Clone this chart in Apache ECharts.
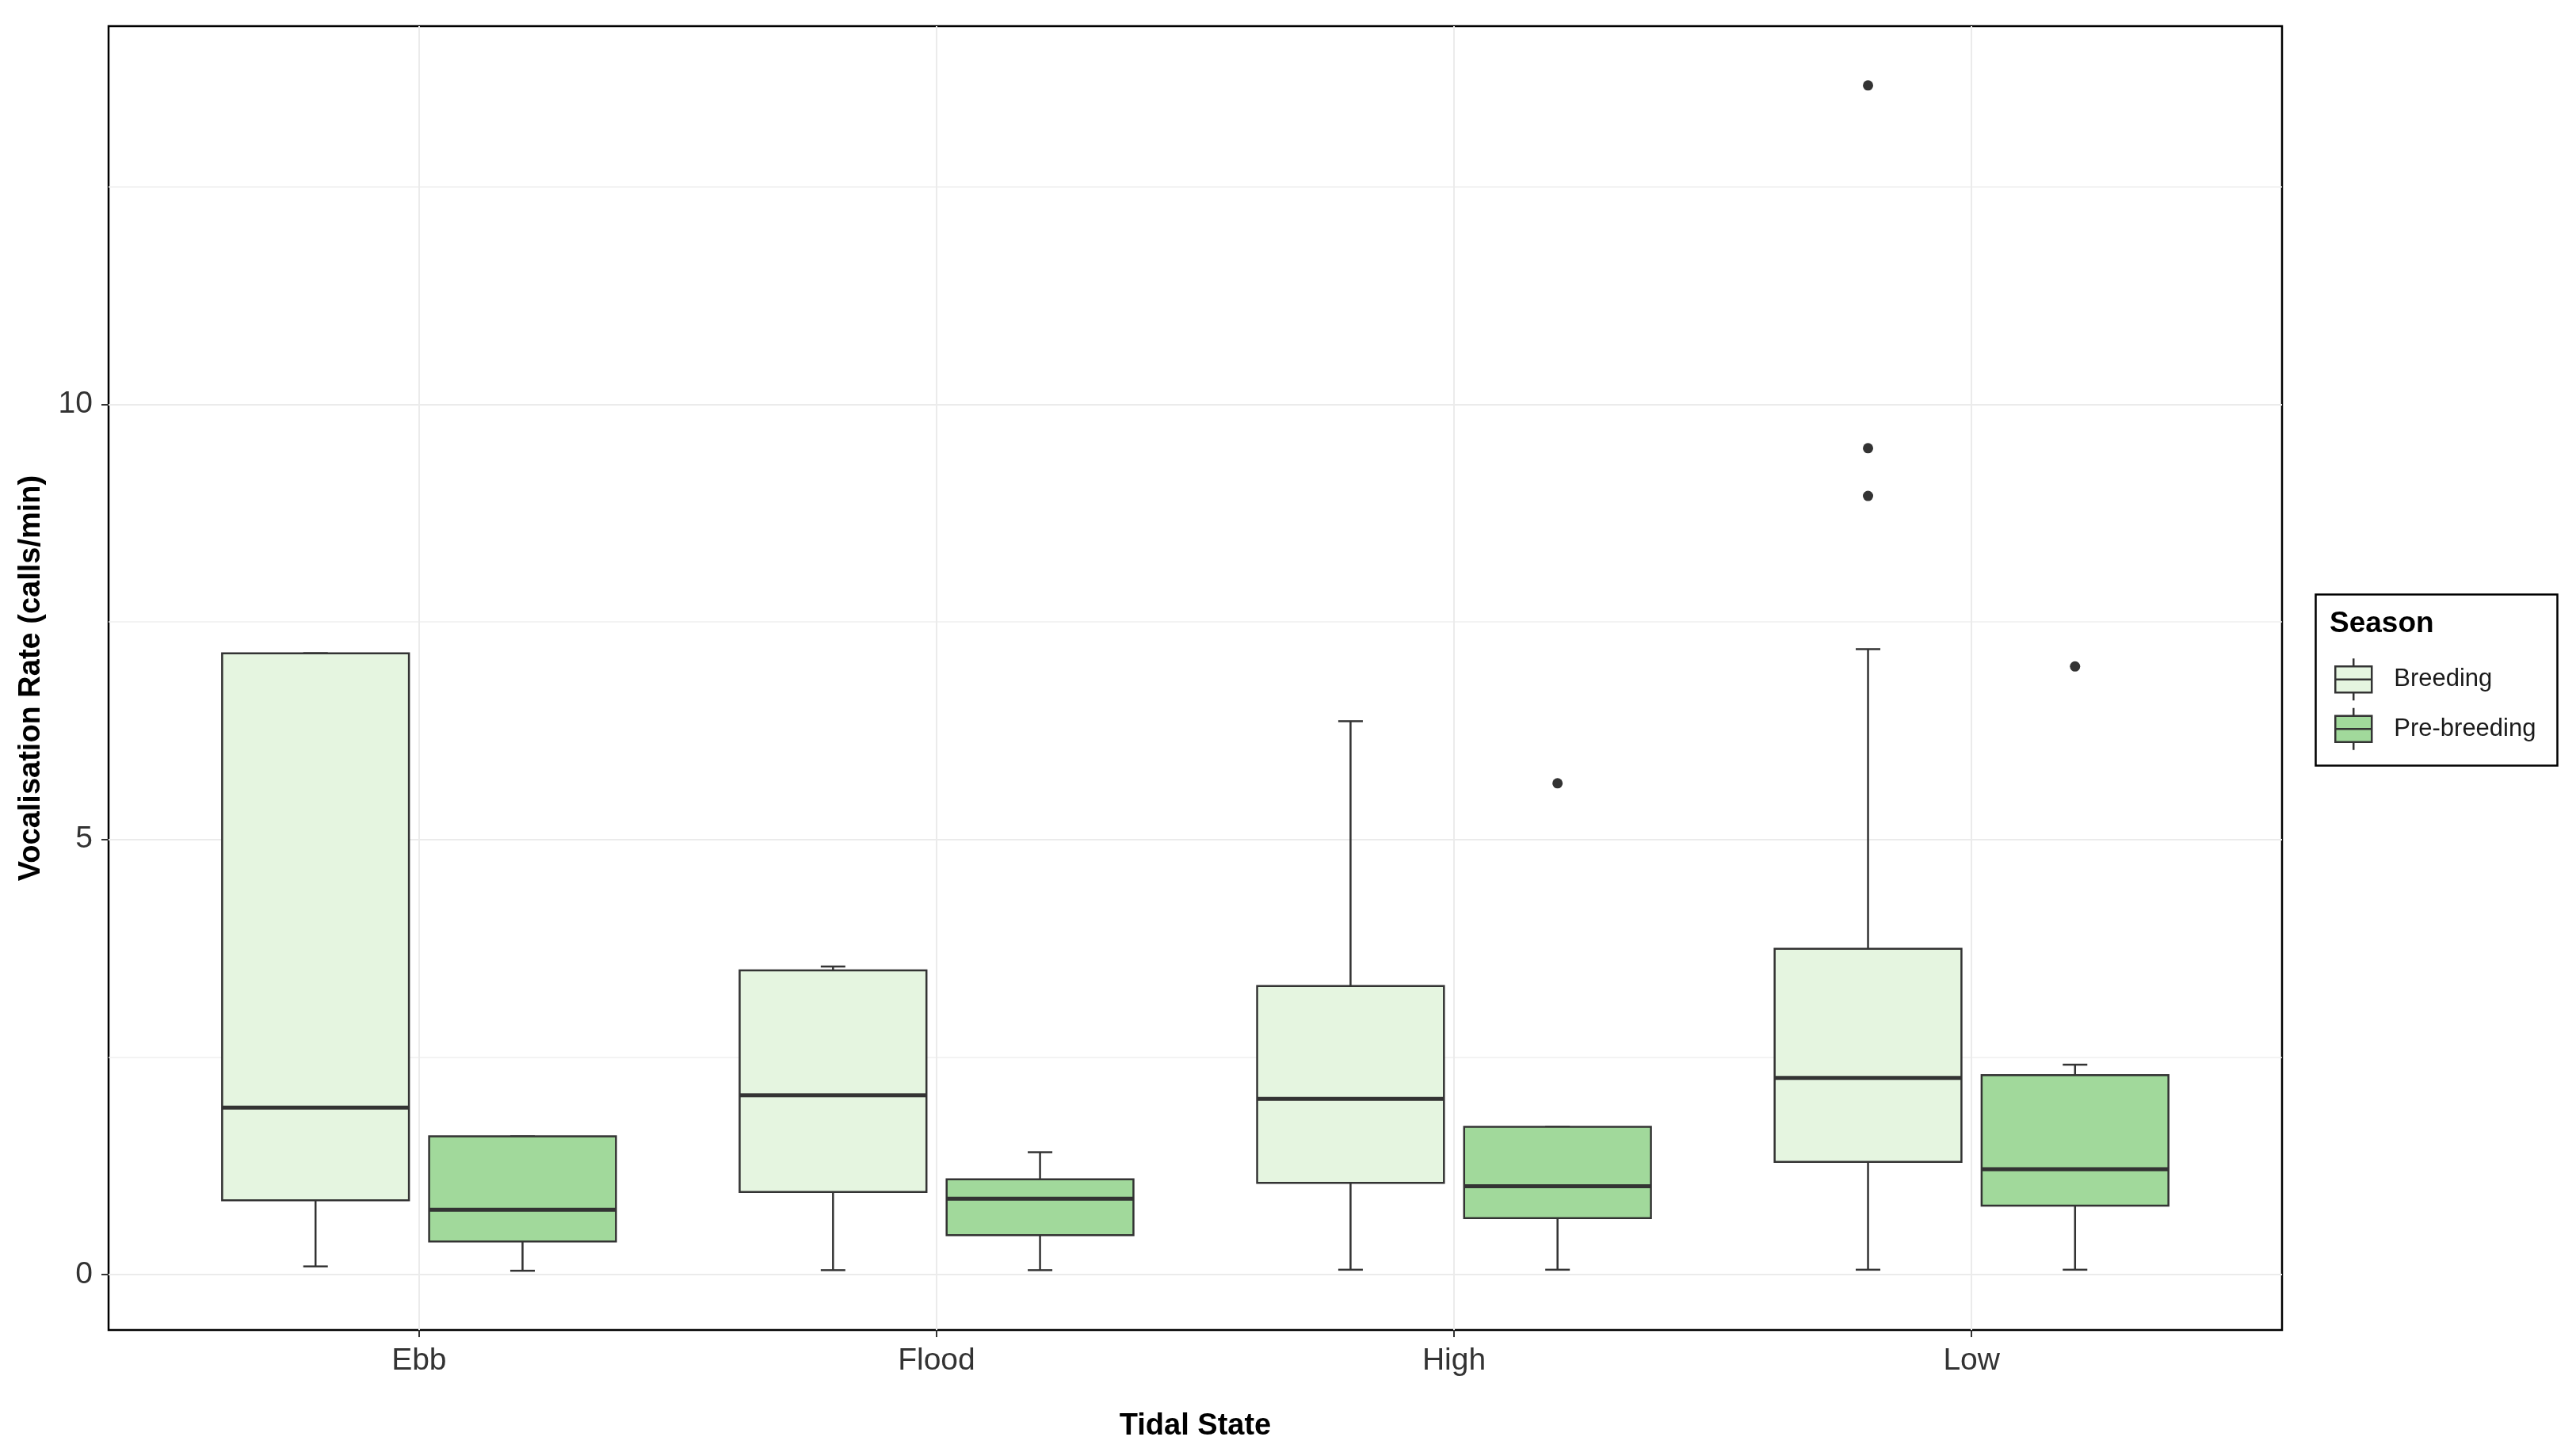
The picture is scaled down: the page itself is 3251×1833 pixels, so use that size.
<!DOCTYPE html>
<html>
<head>
<meta charset="utf-8">
<script src="https://cdn.jsdelivr.net/npm/echarts@6/dist/echarts.min.js"></script>
<style>
html,body{margin:0;padding:0;background:#fff;}
#chart{width:3251px;height:1833px;}
</style>
</head>
<body>
<div id="chart"></div>
<script>
// ---- data ----
const categories = ['Ebb', 'Flood', 'High', 'Low'];
const seasons = ['Breeding', 'Pre-breeding'];
// [min whisker, Q1, median, Q3, max whisker] per tidal state
const breedingStats = [
  [0.094, 0.853, 1.918, 7.140, 7.140],
  [0.051, 0.949, 2.059, 3.495, 3.540],
  [0.056, 1.053, 2.018, 3.316, 6.359],
  [0.056, 1.294, 2.259, 3.743, 7.187]
];
const preBreedingStats = [
  [0.044, 0.380, 0.745, 1.588, 1.588],
  [0.051, 0.453, 0.871, 1.094, 1.406],
  [0.056, 0.649, 1.016, 1.698, 1.698],
  [0.056, 0.793, 1.211, 2.291, 2.412]
];
// outliers: [category index, value]
const breedingOutliers = [[3, 13.665], [3, 9.496], [3, 8.947]];
const preBreedingOutliers = [[2, 5.645], [3, 6.988]];
const yMajorTicks = [0, 5, 10];
const yMinorTicks = [2.5, 7.5, 12.5];
const yMin = -0.637, yMax = 14.346;

// ---- styles ----
const FONT = "'Liberation Sans', Arial, sans-serif";
const fills = ['#E5F5E0', '#A1D99B'];
const LINE = '#333333';
const BOX_W = 0.361, OFFSET = 0.2, CAP_W = 0.0475;

function boxSeries(name, stats, fill, offset) {
  return {
    name: name, type: 'custom', xAxisIndex: 1, yAxisIndex: 2, z: 5,
    itemStyle: { color: fill },
    data: stats.map((s, i) => [i].concat(s)),
    encode: { x: 0, y: [1, 2, 3, 4, 5] },
    renderItem: function (params, api) {
      const i = api.value(0);
      const band = api.size([1, 0])[0];
      const cx = api.coord([i, 0])[0] + offset * band;
      const y = [1, 2, 3, 4, 5].map(d => api.coord([i, api.value(d)])[1]);
      const half = BOX_W * band / 2, cap = CAP_W * band / 2;
      const ls = { stroke: LINE, lineWidth: 2.5 };
      return {
        type: 'group',
        children: [
          { type: 'line', shape: { x1: cx, y1: y[4], x2: cx, y2: y[0] }, style: ls },
          { type: 'line', shape: { x1: cx - cap, y1: y[0], x2: cx + cap, y2: y[0] }, style: ls },
          { type: 'line', shape: { x1: cx - cap, y1: y[4], x2: cx + cap, y2: y[4] }, style: ls },
          { type: 'rect', shape: { x: cx - half, y: y[3], width: 2 * half, height: y[1] - y[3] },
            style: { fill: fill, stroke: LINE, lineWidth: 2.5 } },
          { type: 'line', shape: { x1: cx - half, y1: y[2], x2: cx + half, y2: y[2] },
            style: { stroke: LINE, lineWidth: 5 } }
        ]
      };
    }
  };
}
function outlierSeries(name, pts, offset) {
  return {
    name: name, type: 'custom', xAxisIndex: 1, yAxisIndex: 2, z: 6,
    data: pts, encode: { x: 0, y: 1 },
    renderItem: function (params, api) {
      const band = api.size([1, 0])[0];
      const p = api.coord([api.value(0), api.value(1)]);
      return { type: 'circle', shape: { cx: p[0] + offset * band, cy: p[1], r: 6.5 }, style: { fill: LINE } };
    }
  };
}

const legendIcon = 'path://M0,10L46,10L46,43L0,43Z M0,26.5L46,26.5 M23,0L23,10 M23,43L23,53';

const option = {
  backgroundColor: '#ffffff',
  animation: false,
  textStyle: { fontFamily: FONT },
  title: {
    text: 'Season', left: 2940, top: 769, padding: 0,
    textStyle: { fontSize: 37, fontWeight: 'bold', color: '#000', fontFamily: FONT }
  },
  legend: {
    orient: 'vertical', left: 2946, top: 830, padding: 0,
    itemWidth: 46, itemHeight: 53, itemGap: 7, selectedMode: false,
    textStyle: { fontSize: 31, color: '#1a1a1a', fontFamily: FONT, padding: [0, 0, 0, 23] },
    data: seasons.map((s, k) => ({
      name: s, icon: legendIcon,
      itemStyle: { color: fills[k], borderColor: LINE, borderWidth: 2.5 }
    }))
  },
  graphic: [{
    type: 'rect', left: 2920, top: 748, z: 100,
    shape: { width: 305, height: 216 },
    style: { fill: 'none', stroke: '#000', lineWidth: 2.5 }
  }],
  grid: [
    { left: 137, right: 371, top: 33, bottom: 154, show: true, borderColor: '#000', borderWidth: 2.5, backgroundColor: '#fff' },
    { left: 202.3, right: 436.3, top: 33, bottom: 154 }
  ],
  xAxis: [
    { gridIndex: 0, type: 'value', min: 0, max: 1, show: false },
    {
      gridIndex: 1, type: 'category', data: categories, boundaryGap: true, position: 'bottom',
      name: 'Tidal State', nameLocation: 'middle', nameGap: 103,
      nameTextStyle: { fontSize: 38, fontWeight: 'bold', color: '#000', fontFamily: FONT },
      axisLine: { show: false, onZero: false },
      axisTick: { show: true, alignWithLabel: true, length: 9, lineStyle: { color: LINE, width: 2 } },
      axisLabel: { fontSize: 39, color: '#333', margin: 20, fontFamily: FONT },
      splitLine: { show: true, alignWithLabel: true, lineStyle: { color: '#EBEBEB', width: 2 } }
    }
  ],
  yAxis: [
    {
      gridIndex: 0, type: 'value', min: yMin, max: yMax, position: 'left',
      name: 'Vocalisation Rate (calls/min)', nameLocation: 'middle', nameGap: 78,
      nameTextStyle: { fontSize: 38, fontWeight: 'bold', color: '#000', fontFamily: FONT },
      axisLine: { show: false, onZero: false },
      axisTick: { show: true, length: 9, customValues: yMajorTicks, lineStyle: { color: LINE, width: 2 } },
      axisLabel: { fontSize: 39, color: '#333', margin: 20, customValues: yMajorTicks, fontFamily: FONT },
      splitLine: { show: true, lineStyle: { color: '#EBEBEB', width: 2 } }
    },
    {
      gridIndex: 0, type: 'value', min: yMin, max: yMax, position: 'left',
      axisLine: { show: false, onZero: false },
      axisTick: { show: false, customValues: yMinorTicks },
      axisLabel: { show: false },
      splitLine: { show: true, lineStyle: { color: '#EFEFEF', width: 1.6 } }
    },
    { gridIndex: 1, type: 'value', min: yMin, max: yMax, show: false, splitLine: { show: false } }
  ],
  series: [
    boxSeries(seasons[0], breedingStats, fills[0], -OFFSET),
    boxSeries(seasons[1], preBreedingStats, fills[1], OFFSET),
    outlierSeries('Breeding outliers', breedingOutliers, -OFFSET),
    outlierSeries('Pre-breeding outliers', preBreedingOutliers, OFFSET)
  ]
};

const chart = echarts.init(document.getElementById('chart'), null, { renderer: 'canvas' });
chart.setOption(option);
</script>
</body>
</html>
